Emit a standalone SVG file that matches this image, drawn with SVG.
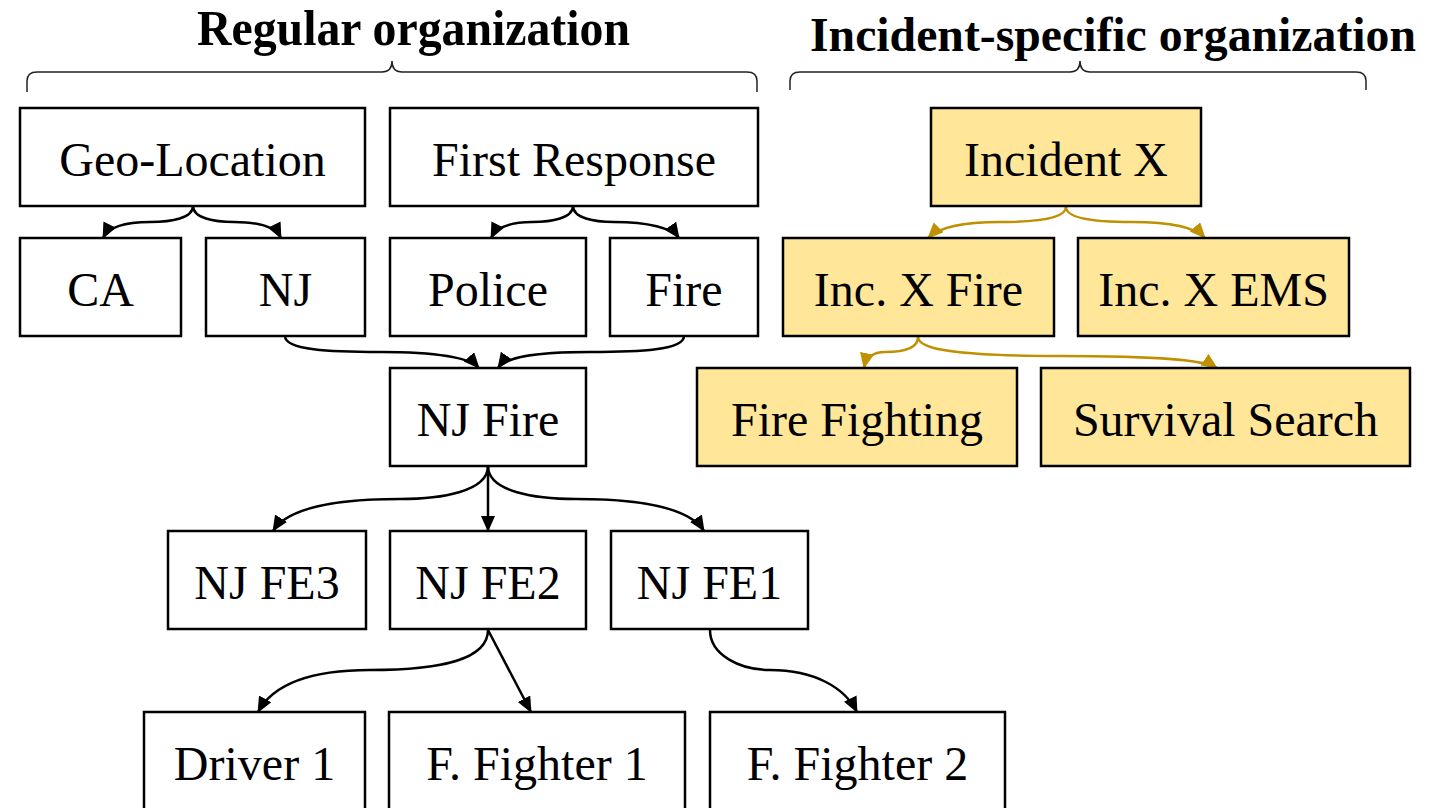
<svg xmlns="http://www.w3.org/2000/svg" width="1432" height="808" viewBox="0 0 1432 808">
  <style>
    .title { font-family: "Liberation Serif", "Times New Roman", serif; font-weight: bold; font-size: 50px; fill: #000; text-anchor: middle; }
    .box { fill: #ffffff; stroke: #000; stroke-width: 2.5; }
    .inc { fill: #ffe699; stroke: #000; stroke-width: 2.5; }
    .label { font-family: "Liberation Serif", "Times New Roman", serif; font-size: 48px; fill: #000; text-anchor: middle; }
    .brace { fill: none; stroke: #222; stroke-width: 1.5; }
    .edge { fill: none; stroke: #000; stroke-width: 2.5; marker-end: url(#arrowBlack); }
    .edge-inc { fill: none; stroke: #bf9000; stroke-width: 2.5; marker-end: url(#arrowGold); }
  </style>
  <defs>
    <marker id="arrowBlack" markerUnits="userSpaceOnUse" markerWidth="17" markerHeight="15" refX="15" refY="7" orient="auto">
      <path d="M0,0 L16,7 L0,14 z" fill="#000"/>
    </marker>
    <marker id="arrowGold" markerUnits="userSpaceOnUse" markerWidth="17" markerHeight="15" refX="15" refY="7" orient="auto">
      <path d="M0,0 L16,7 L0,14 z" fill="#bf9000"/>
    </marker>
  </defs>

  <!-- section headings -->
  <text class="title" x="413.5" y="45" textLength="433" lengthAdjust="spacingAndGlyphs">Regular organization</text>
  <text class="title" x="1113" y="51" style="font-size:48px" textLength="606" lengthAdjust="spacingAndGlyphs">Incident-specific organization</text>

  <!-- curly braces under headings -->
  <path class="brace" d="M27,92 L27,81 Q27,72 37,72 L382,72 Q392,72 392,61 Q392,72 402,72 L747,72 Q757,72 757,81 L757,92"/>
  <path class="brace" d="M790,90 L790,81 Q790,72 800,72 L1070,72 Q1080,72 1080,61 Q1080,72 1090,72 L1356,72 Q1366,72 1366,81 L1366,90"/>

  <!-- connectors -->
  <g id="connectors">
    <path class="edge" d="M193,206 C193,218 172,222 150,222 C122,222 108,228 103,238"/>
    <path class="edge" d="M193,206 C193,218 214,222 234,222 C260,222 276,228 281,238"/>
    <path class="edge" d="M573,206 C573,218 552,222 532,222 C508,222 496,228 491,238"/>
    <path class="edge" d="M573,206 C573,218 594,222 614,222 C648,222 672,228 679,238"/>
    <path class="edge" d="M285,336 C285,350 330,352 380,352 C440,352 470,358 479,368"/>
    <path class="edge" d="M684,336 C684,350 640,352 590,352 C530,352 505,358 498,368"/>
    <path class="edge" d="M488,466 C488,492 440,499 400,499 C320,499 285,512 273,531"/>
    <path class="edge" d="M488,466 L488,531"/>
    <path class="edge" d="M488,466 C488,492 536,499 576,499 C656,499 692,512 704,531"/>
    <path class="edge" d="M488,630 C488,660 440,670 370,670 C300,670 270,690 258,712"/>
    <path class="edge" d="M488,630 L531,712"/>
    <path class="edge" d="M710,630 C710,655 740,670 770,670 C815,670 845,688 857,712"/>
    <path class="edge-inc" d="M1066,207 C1066,218 1040,222 1000,222 C960,222 938,228 928,238"/>
    <path class="edge-inc" d="M1066,207 C1066,218 1092,222 1132,222 C1172,222 1196,228 1205,238"/>
    <path class="edge-inc" d="M918,337 C918,350 900,352 885,352 C872,352 866,358 864,368"/>
    <path class="edge-inc" d="M918,337 C918,350 960,356 1060,356 C1160,356 1205,360 1217,368"/>
  </g>

  <!-- regular organization -->
  <g id="geo-location"><rect class="box" x="20" y="108" width="345" height="98"/><text class="label" x="192.5" y="176">Geo-Location</text></g>
  <g id="first-response"><rect class="box" x="390" y="108" width="368" height="98"/><text class="label" x="574" y="176">First Response</text></g>
  <g id="ca"><rect class="box" x="20" y="238" width="161" height="98"/><text class="label" x="100.5" y="306">CA</text></g>
  <g id="nj"><rect class="box" x="206" y="238" width="159" height="98"/><text class="label" x="285.5" y="306">NJ</text></g>
  <g id="police"><rect class="box" x="390" y="238" width="196" height="98"/><text class="label" x="488" y="306">Police</text></g>
  <g id="fire"><rect class="box" x="610" y="238" width="148" height="98"/><text class="label" x="684" y="306">Fire</text></g>
  <g id="nj-fire"><rect class="box" x="390" y="368" width="196" height="98"/><text class="label" x="488" y="436">NJ Fire</text></g>
  <g id="nj-fe3"><rect class="box" x="168" y="531" width="198" height="98"/><text class="label" x="267" y="599">NJ FE3</text></g>
  <g id="nj-fe2"><rect class="box" x="390" y="531" width="196" height="98"/><text class="label" x="488" y="599">NJ FE2</text></g>
  <g id="nj-fe1"><rect class="box" x="611" y="531" width="197" height="98"/><text class="label" x="709.5" y="599">NJ FE1</text></g>
  <g id="driver-1"><rect class="box" x="144" y="712" width="221" height="110"/><text class="label" x="254.5" y="780">Driver 1</text></g>
  <g id="f-fighter-1"><rect class="box" x="389" y="712" width="296" height="110"/><text class="label" x="537" y="780">F. Fighter 1</text></g>
  <g id="f-fighter-2"><rect class="box" x="710" y="712" width="295" height="110"/><text class="label" x="857.5" y="780">F. Fighter 2</text></g>

  <!-- incident-specific organization -->
  <g id="incident-x"><rect class="inc" x="931" y="108" width="270" height="98"/><text class="label" x="1066" y="176">Incident X</text></g>
  <g id="inc-x-fire"><rect class="inc" x="783" y="238" width="271" height="98"/><text class="label" x="918.5" y="306">Inc. X Fire</text></g>
  <g id="inc-x-ems"><rect class="inc" x="1078" y="238" width="271" height="98"/><text class="label" x="1213.5" y="306">Inc. X EMS</text></g>
  <g id="fire-fighting"><rect class="inc" x="697" y="368" width="320" height="98"/><text class="label" x="857" y="436">Fire Fighting</text></g>
  <g id="survival-search"><rect class="inc" x="1041" y="368" width="369" height="98"/><text class="label" x="1225.5" y="436">Survival Search</text></g>
</svg>
